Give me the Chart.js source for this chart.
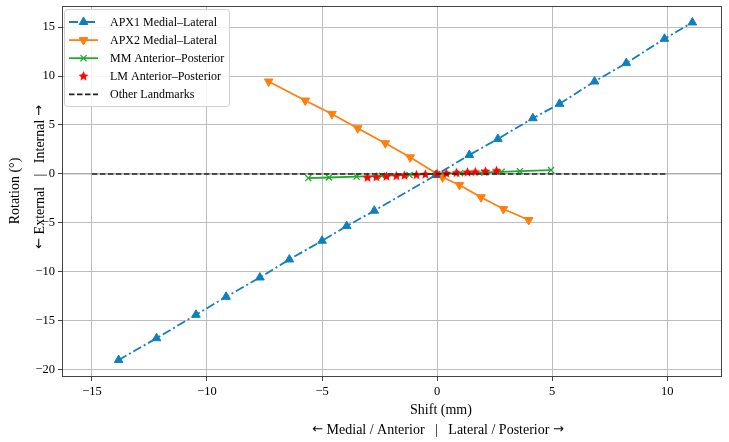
<!DOCTYPE html>
<html>
<head>
<meta charset="utf-8">
<script src="https://cdn.jsdelivr.net/npm/chart.js@4.4.1/dist/chart.umd.min.js"></script>
<style>
  html, body { margin: 0; padding: 0; background: #fff; }
  #wrap { width: 729px; height: 442px; }
</style>
</head>
<body>
<div id="wrap"><canvas id="chart" width="729" height="442"></canvas></div>
<script>
// Data
const apx1X = [-13.84, -12.19, -10.48, -9.17, -7.70, -6.42, -5.00, -3.93, -2.73, -0.05, 1.40, 2.64, 4.16, 5.32, 6.84, 8.22, 9.88, 11.09];
const apx1Y = [-19.0, -16.77, -14.38, -12.54, -10.57, -8.73, -6.82, -5.32, -3.75, -0.10, 1.94, 3.58, 5.69, 7.16, 9.44, 11.32, 13.80, 15.47];

const apx2X = [-7.32, -5.73, -4.57, -3.45, -2.25, -1.17, 0.24, 0.97, 1.91, 2.88, 3.98];
const apx2Y = [9.44, 7.50, 6.13, 4.67, 3.14, 1.70, -0.34, -1.12, -2.38, -3.58, -4.70];

const mmX = [-5.6, -4.7, -3.5, -2.4, -1.2, 0.0, 1.0, 2.05, 2.8, 3.6, 4.95];
const mmY = [-0.42, -0.36, -0.27, -0.19, -0.10, 0.0, 0.08, 0.16, 0.22, 0.29, 0.40];

const lmX = [-3.03, -2.64, -2.20, -1.77, -1.42, -0.90, -0.51, 0.0, 0.40, 0.84, 1.32, 1.66, 2.10, 2.58];
const lmY = [-0.38, -0.33, -0.27, -0.22, -0.17, -0.11, -0.06, 0.0, 0.05, 0.10, 0.16, 0.20, 0.25, 0.31];

const otherX = [-15, 10];
const otherY = [0, 0];

const xTicks = [-15, -10, -5, 0, 5, 10];
const yTicks = [-20, -15, -10, -5, 0, 5, 10, 15];

const seriesNames = ['APX1 Medial\u2013Lateral', 'APX2 Medial\u2013Lateral', 'MM Anterior\u2013Posterior', 'LM Anterior\u2013Posterior', 'Other Landmarks'];

const BLUE = '#0f7fc0';
const ORANGE = '#ff7f0e';
const GREEN = '#1eaa2a';
const RED = '#ff0000';
const SERIF = '"Liberation Serif", "Times New Roman", serif';
const ARROWS = '"DejaVu Sans", sans-serif';

function pts(xs, ys) {
  return xs.map((x, i) => ({ x: x, y: ys[i] }));
}

function fmt(v) {
  return v < 0 ? '\u2212' + Math.abs(v) : String(v);
}

// filled 5 point star for LM markers
function makeStar(r, color) {
  const c = document.createElement('canvas');
  const s = Math.ceil(r * 2 + 2);
  c.width = s; c.height = s;
  const g = c.getContext('2d');
  g.fillStyle = color;
  g.beginPath();
  for (let i = 0; i < 10; i++) {
    const rad = i % 2 === 0 ? r : r * 0.45;
    const a = -Math.PI / 2 + i * Math.PI / 5;
    const px = s / 2 + rad * Math.cos(a);
    const py = s / 2 + rad * Math.sin(a);
    if (i === 0) g.moveTo(px, py); else g.lineTo(px, py);
  }
  g.closePath();
  g.fill();
  return c;
}
const starImg = makeStar(5.2, RED);

// text made of pieces, arrows drawn in a font with wider arrow glyphs
function drawPieces(ctx, pieces, cx, cy) {
  let total = 0;
  const w = pieces.map(p => {
    ctx.font = p[1];
    const m = ctx.measureText(p[0]).width;
    total += m;
    return m;
  });
  let x = cx - total / 2;
  ctx.textAlign = 'left';
  pieces.forEach((p, i) => {
    ctx.font = p[1];
    ctx.fillText(p[0], x, cy);
    x += w[i];
  });
}

// frame, zero line, axis titles, legend
const extras = {
  id: 'extras',
  beforeDatasetsDraw(chart) {
    const ctx = chart.ctx;
    const a = chart.chartArea;
    const y0 = chart.scales.y.getPixelForValue(0);
    ctx.save();
    ctx.strokeStyle = '#999';
    ctx.lineWidth = 0.8;
    ctx.beginPath();
    ctx.moveTo(a.left, y0);
    ctx.lineTo(a.right, y0);
    ctx.stroke();
    ctx.restore();
  },
  afterDraw(chart) {
    const ctx = chart.ctx;
    const a = chart.chartArea;
    ctx.save();
    ctx.strokeStyle = '#444';
    ctx.lineWidth = 1;
    ctx.strokeRect(a.left + 0.5, a.top + 0.5, a.right - a.left - 1, a.bottom - a.top - 1);

    const tf = '14px ' + SERIF;
    const af = '13px ' + ARROWS;

    // x title
    ctx.fillStyle = '#000';
    ctx.font = tf;
    ctx.textAlign = 'center';
    ctx.textBaseline = 'middle';
    ctx.fillText('Shift (mm)', 441, 410);
    drawPieces(ctx, [['\u2190', af], [' Medial / Anterior   |   Lateral / Posterior ', tf], ['\u2192', af]], 438, 430);

    // y titles
    ctx.save();
    ctx.translate(15, 191);
    ctx.rotate(-Math.PI / 2);
    ctx.font = tf;
    ctx.textAlign = 'center';
    ctx.fillText('Rotation (\u00b0)', 0, 0);
    ctx.restore();
    ctx.save();
    ctx.translate(40, 177);
    ctx.rotate(-Math.PI / 2);
    drawPieces(ctx, [['\u2190', af], [' External   |   Internal ', tf], ['\u2192', af]], 0, 0);
    ctx.restore();

    // legend
    const lx = 64, ly = 9, lw = 165, lh = 97;
    ctx.fillStyle = 'rgba(255,255,255,0.85)';
    ctx.strokeStyle = '#d0d0d0';
    ctx.lineWidth = 1;
    ctx.beginPath();
    ctx.roundRect(lx + 0.5, ly + 0.5, lw, lh, 3);
    ctx.fill();
    ctx.stroke();

    ctx.font = '12px ' + SERIF;
    ctx.textAlign = 'left';
    chart.data.datasets.forEach((ds, i) => {
      const yy = ly + 13 + i * 18.1;
      if (ds.showLine !== false) {
        ctx.save();
        ctx.strokeStyle = ds.borderColor;
        ctx.lineWidth = ds.borderWidth;
        ctx.setLineDash(ds.borderDash || []);
        ctx.beginPath();
        ctx.moveTo(lx + 5, yy);
        ctx.lineTo(lx + 34, yy);
        ctx.stroke();
        ctx.restore();
      }
      if (ds.pointRadius > 0) {
        ctx.save();
        ctx.fillStyle = ds.pointBackgroundColor;
        ctx.strokeStyle = ds.pointBorderColor;
        ctx.lineWidth = ds.pointBorderWidth;
        Chart.helpers.drawPoint(ctx, {
          pointStyle: ds.pointStyle,
          radius: ds.pointRadius,
          rotation: ds.pointRotation || 0,
          borderWidth: ds.pointBorderWidth
        }, lx + 19.5, yy);
        ctx.restore();
      }
      ctx.fillStyle = '#000';
      ctx.fillText(ds.label, lx + 46, yy + 0.5);
    });
    ctx.restore();
  }
};

const chart = new Chart(document.getElementById('chart'), {
  type: 'scatter',
  data: {
    datasets: [
      {
        label: seriesNames[0],
        data: pts(apx1X, apx1Y),
        showLine: true,
        borderColor: BLUE,
        borderWidth: 1.8,
        borderDash: [9, 3, 2, 3],
        pointStyle: 'triangle',
        pointRadius: 5,
        pointBackgroundColor: BLUE,
        pointBorderColor: BLUE,
        pointBorderWidth: 1,
        order: 5
      },
      {
        label: seriesNames[1],
        data: pts(apx2X, apx2Y),
        showLine: true,
        borderColor: ORANGE,
        borderWidth: 1.8,
        pointStyle: 'triangle',
        pointRotation: 180,
        pointRadius: 5,
        pointBackgroundColor: ORANGE,
        pointBorderColor: ORANGE,
        pointBorderWidth: 1,
        order: 4
      },
      {
        label: seriesNames[2],
        data: pts(mmX, mmY),
        showLine: true,
        borderColor: GREEN,
        borderWidth: 1.8,
        pointStyle: 'crossRot',
        pointRadius: 4.3,
        pointBackgroundColor: GREEN,
        pointBorderColor: GREEN,
        pointBorderWidth: 1.3,
        order: 3
      },
      {
        label: seriesNames[3],
        data: pts(lmX, lmY),
        showLine: false,
        borderColor: RED,
        borderWidth: 0,
        pointStyle: starImg,
        pointRadius: 5.2,
        pointBackgroundColor: RED,
        pointBorderColor: RED,
        pointBorderWidth: 0,
        order: 2
      },
      {
        label: seriesNames[4],
        data: pts(otherX, otherY),
        showLine: true,
        borderColor: '#222',
        borderWidth: 1.6,
        borderDash: [5.5, 2.5],
        pointRadius: 0,
        order: 1
      }
    ]
  },
  options: {
    responsive: false,
    animation: false,
    layout: { padding: { top: 6, right: 7, left: 0, bottom: 0 } },
    plugins: {
      legend: { display: false },
      tooltip: { enabled: false }
    },
    scales: {
      x: {
        type: 'linear',
        min: -16.3,
        max: 12.38,
        afterFit: s => { s.height = 65; s.paddingLeft = 0; s.paddingRight = 0; },
        afterBuildTicks: s => { s.ticks = xTicks.map(v => ({ value: v })); },
        grid: { color: '#bdbdbd', lineWidth: 1, tickColor: '#444', tickLength: 4 },
        border: { display: false },
        ticks: { color: '#000', font: { family: SERIF, size: 12.5 }, padding: 3, callback: fmt }
      },
      y: {
        type: 'linear',
        min: -20.73,
        max: 17.15,
        afterFit: s => { s.width = 62; s.paddingTop = 0; s.paddingBottom = 0; },
        afterBuildTicks: s => { s.ticks = yTicks.map(v => ({ value: v })); },
        grid: { color: '#bdbdbd', lineWidth: 1, tickColor: '#444', tickLength: 4 },
        border: { display: false },
        ticks: { color: '#000', font: { family: SERIF, size: 12.5 }, padding: 3, callback: fmt }
      }
    }
  },
  plugins: [extras]
});
</script>
</body>
</html>
